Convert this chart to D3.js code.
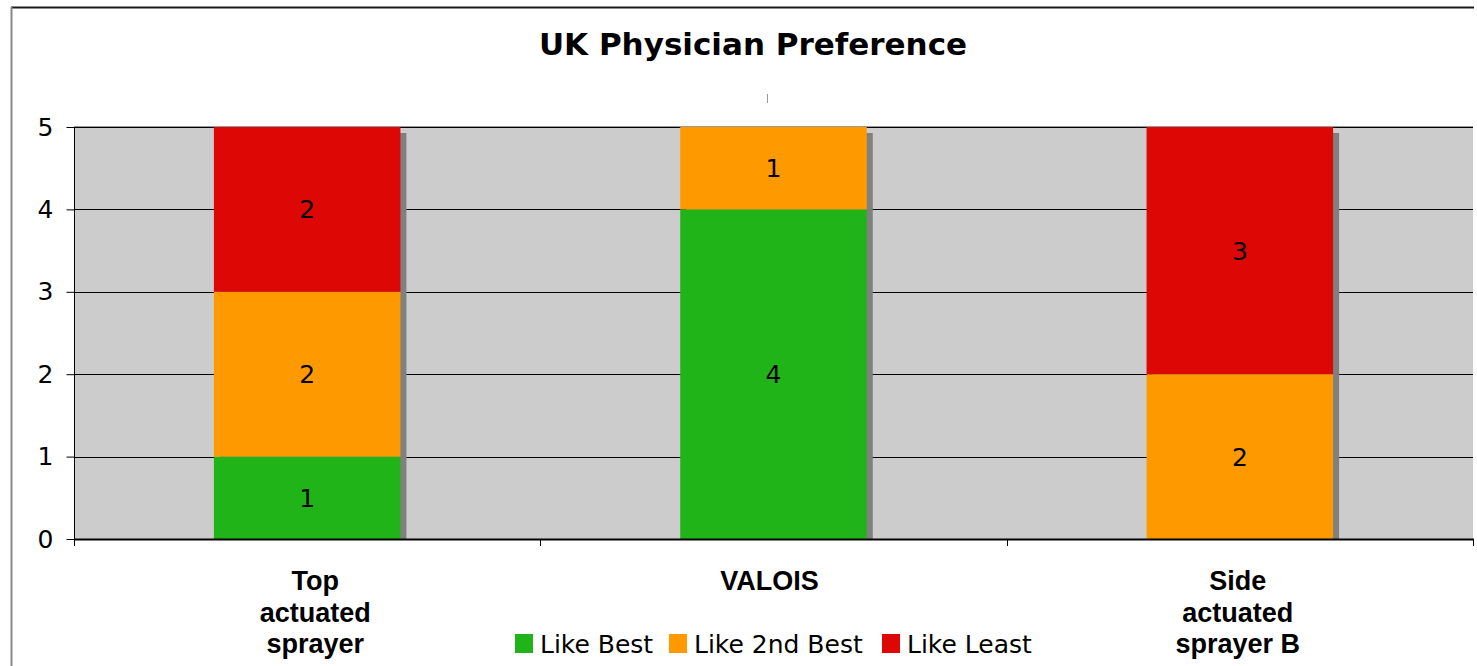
<!DOCTYPE html>
<html>
<head>
<meta charset="utf-8">
<script src="https://cdn.jsdelivr.net/npm/d3@7"></script>
<style>
  html, body { margin: 0; padding: 0; background: #fff; }
  svg { display: block; }
</style>
</head>
<body>
<svg id="chart" width="1477" height="666"></svg>
<script>
// ---- data ----
const categories = ["Top actuated sprayer", "VALOIS", "Side actuated sprayer B"];
const categoryLines = [["Top", "actuated", "sprayer"], ["VALOIS"], ["Side", "actuated", "sprayer B"]];
const seriesNames = ["Like Best", "Like 2nd Best", "Like Least"];
const likeBest = [1, 4, 0];
const like2ndBest = [2, 1, 2];
const likeLeast = [2, 0, 3];
const yTicks = [0, 1, 2, 3, 4, 5];
const titleText = "UK Physician Preference";

// ---- styles ----
const colors = ["#20B418", "#FF9900", "#DD0806"];
const W = 1477, H = 666;
const plot = { left: 74, right: 1473, top: 127, bottom: 539 };
const labelFont = "DejaVu Sans, Verdana, sans-serif";

const svg = d3.select("#chart");

// outer frame
svg.append("line").attr("x1", 11).attr("x2", 1474).attr("y1", 7.5).attr("y2", 7.5)
  .attr("stroke", "#1a1a1a").attr("stroke-width", 2);
svg.append("line").attr("x1", 11.5).attr("x2", 11.5).attr("y1", 7).attr("y2", H)
  .attr("stroke", "#888").attr("stroke-width", 2);

// title
svg.append("text").attr("x", 753).attr("y", 55).attr("text-anchor", "middle")
  .attr("font-family", labelFont).attr("font-weight", "bold")
  .attr("font-size", 31).attr("fill", "#000").text(titleText);

// small stray mark
svg.append("line").attr("x1", 767.5).attr("x2", 767.5).attr("y1", 94).attr("y2", 103)
  .attr("stroke", "#999").attr("stroke-width", 1);

// scales
const x = d3.scaleBand().domain(categories).range([plot.left, plot.right]).paddingInner(0).paddingOuter(0);
const y = d3.scaleLinear().domain([0, 5]).range([plot.bottom, plot.top]);
const barFrac = 0.4;

// plot background
svg.append("rect").attr("x", plot.left).attr("y", plot.top)
  .attr("width", plot.right - plot.left).attr("height", plot.bottom - plot.top)
  .attr("fill", "#CCCCCC");
svg.append("line").attr("x1", plot.left).attr("x2", plot.right)
  .attr("y1", plot.top - 0.5).attr("y2", plot.top - 0.5).attr("stroke", "#999").attr("stroke-width", 1);

// gridlines
svg.append("g").selectAll("line").data(yTicks.filter(d => d > 0)).join("line")
  .attr("x1", plot.left).attr("x2", plot.right)
  .attr("y1", d => Math.round(y(d)) + 0.5).attr("y2", d => Math.round(y(d)) + 0.5)
  .attr("stroke", "#000").attr("stroke-width", 1);

// stacked data
const table = categories.map((c, i) => ({ cat: c, "Like Best": likeBest[i], "Like 2nd Best": like2ndBest[i], "Like Least": likeLeast[i] }));
const stack = d3.stack().keys(seriesNames);
const stacked = stack(table);
const totals = table.map(d => d["Like Best"] + d["Like 2nd Best"] + d["Like Least"]);

const bw = x.bandwidth() * barFrac;
const bx = d => x(d) + (x.bandwidth() - bw) / 2;

// shadows
svg.append("g").selectAll("rect").data(table).join("rect")
  .attr("x", d => bx(d.cat) + 6)
  .attr("y", (d, i) => y(totals[i]) + 6)
  .attr("width", bw)
  .attr("height", (d, i) => y(0) - y(totals[i]) - 6)
  .attr("fill", "#808080");

// bars
const layers = svg.append("g").selectAll("g").data(stacked).join("g")
  .attr("fill", (d, i) => colors[i]);
layers.selectAll("rect").data(d => d.filter(s => s[1] - s[0] > 0)).join("rect")
  .attr("x", d => bx(d.data.cat))
  .attr("y", d => y(d[1]))
  .attr("width", bw)
  .attr("height", d => y(d[0]) - y(d[1]));

// value labels
layers.selectAll("text").data(d => d.filter(s => s[1] - s[0] > 0)).join("text")
  .attr("x", d => bx(d.data.cat) + bw / 2)
  .attr("y", d => (y(d[0]) + y(d[1])) / 2 + 9)
  .attr("text-anchor", "middle")
  .attr("font-family", labelFont)
  .attr("font-size", 25).attr("fill", "#000")
  .text(d => d[1] - d[0]);

// y axis
const yAxis = d3.axisLeft(y).tickValues(yTicks).tickSize(8).tickPadding(13).tickFormat(d3.format("d"));
const gy = svg.append("g").attr("transform", `translate(${plot.left + 0.5},0)`).call(yAxis);
gy.select(".domain").remove();
gy.selectAll(".tick line").attr("stroke", "#000");
gy.selectAll(".tick text").attr("font-family", labelFont)
  .attr("font-size", 25).attr("fill", "#000");
svg.append("line").attr("x1", plot.left + 0.5).attr("x2", plot.left + 0.5)
  .attr("y1", plot.top).attr("y2", plot.bottom + 7).attr("stroke", "#000");

// x axis baseline and ticks between categories
svg.append("line").attr("x1", plot.left).attr("x2", plot.right + 1)
  .attr("y1", plot.bottom + 0.5).attr("y2", plot.bottom + 0.5).attr("stroke", "#000").attr("stroke-width", 2);
const bounds = categories.map(c => x(c)).concat([plot.right]);
svg.append("g").selectAll("line").data(bounds).join("line")
  .attr("x1", d => Math.round(d) + 0.5).attr("x2", d => Math.round(d) + 0.5)
  .attr("y1", plot.bottom).attr("y2", plot.bottom + 7).attr("stroke", "#000");

// category labels
const catOffset = [8, -4, -2];
const catG = svg.append("g").selectAll("text").data(categories).join("text")
  .attr("text-anchor", "middle")
  .attr("font-family", "Liberation Sans, Arial, sans-serif")
  .attr("font-weight", "bold").attr("font-size", 27).attr("fill", "#000");
catG.selectAll("tspan").data((d, i) => categoryLines[i].map(l => ({ l, c: d, i }))).join("tspan")
  .attr("x", d => x(d.c) + x.bandwidth() / 2 + catOffset[d.i])
  .attr("y", (d, j) => 590 + j * 31.5)
  .text(d => d.l);

// legend
const legendX = [515, 669, 882];
const lg = svg.append("g").selectAll("g").data(seriesNames).join("g")
  .attr("transform", (d, i) => `translate(${legendX[i]},634)`);
lg.append("rect").attr("width", 18).attr("height", 19).attr("fill", (d, i) => colors[i]);
lg.append("text").attr("x", 25).attr("y", 19).attr("font-family", labelFont)
  .attr("font-size", 25).attr("fill", "#000").text(d => d);
</script>
</body>
</html>
